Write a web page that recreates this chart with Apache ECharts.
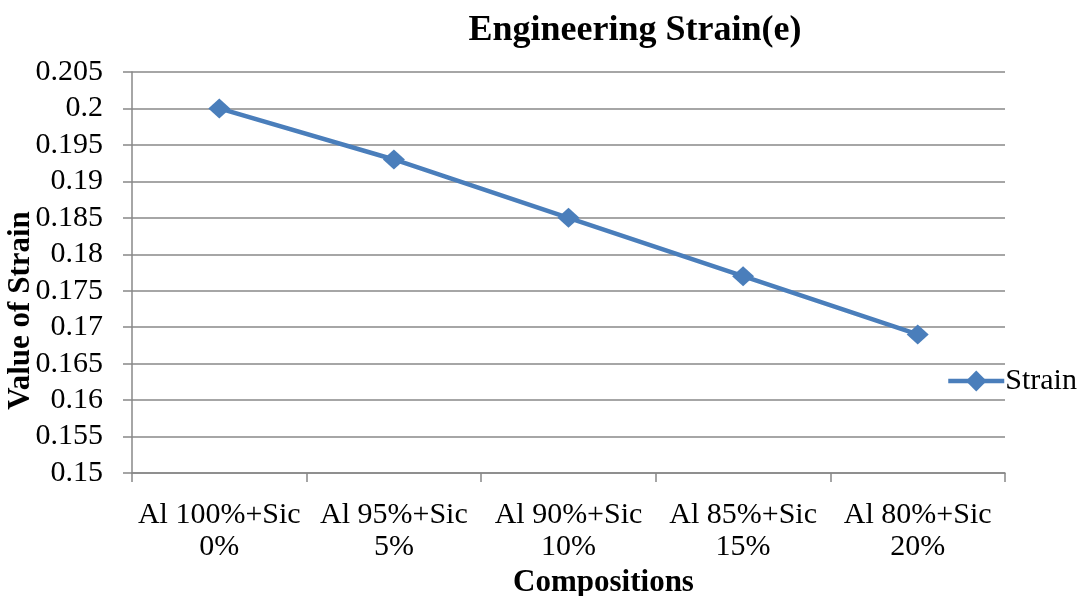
<!DOCTYPE html>
<html><head><meta charset="utf-8">
<script src="https://cdn.jsdelivr.net/npm/echarts@6/dist/echarts.min.js"></script>
<style>html,body{margin:0;padding:0;background:#fff}#c{width:1081px;height:596px}</style>
</head><body><div id="c"></div>
<script>
const categories = ['Al 100%+Sic\n0%', 'Al 95%+Sic\n5%', 'Al 90%+Sic\n10%', 'Al 85%+Sic\n15%', 'Al 80%+Sic\n20%'];
const strain = [0.200, 0.193, 0.185, 0.177, 0.169];
const yMin = 0.15, yMax = 0.205, yStep = 0.005;

const font = '"Liberation Serif","Times New Roman",serif';
const blue = '#4A7EBB';
const chart = echarts.init(document.getElementById('c'), null, {renderer: 'canvas'});
chart.setOption({
  animation: false,
  title: {
    text: 'Engineering Strain(e)', left: 630, top: 8, textAlign: 'center',
    textStyle: {fontFamily: font, fontWeight: 'bold', fontSize: 36, color: '#000'}
  },
  legend: {
    data: ['Strain'], left: 946, top: 366, orient: 'vertical',
    itemWidth: 56, itemHeight: 26, itemGap: 0, padding: 0,
    lineStyle: {width: 4.5, color: blue},
    itemStyle: {color: blue},
    textStyle: {fontFamily: font, fontSize: 30, color: '#000', padding: [0, 0, 0, -4]}
  },
  grid: {left: 132, right: 76, top: 72, bottom: 123, outerBoundsMode: 'none'},
  xAxis: {
    type: 'category', data: categories, boundaryGap: true,
    name: 'Compositions', nameLocation: 'middle', nameGap: 94, nameMoveOverlap: false,
    nameTextStyle: {fontFamily: font, fontWeight: 'bold', fontSize: 31, color: '#000', padding: [0, 0, 0, 70]},
    axisLine: {lineStyle: {color: '#888', width: 1.5}},
    axisTick: {show: true, length: 9, alignWithLabel: false, lineStyle: {color: '#888', width: 1.5}},
    axisLabel: {fontFamily: font, fontSize: 30, color: '#000', margin: 26, lineHeight: 32, interval: 0}
  },
  yAxis: {
    type: 'value', min: yMin, max: yMax, interval: yStep,
    name: 'Value of Strain', nameLocation: 'middle', nameGap: 96, nameRotate: 90, nameMoveOverlap: false,
    nameTextStyle: {fontFamily: font, fontWeight: 'bold', fontSize: 31, color: '#000', padding: [0, 76, 0, 0]},
    axisLine: {show: true, lineStyle: {color: '#888', width: 1.5}},
    axisTick: {show: true, length: 9, lineStyle: {color: '#888', width: 1.5}},
    splitLine: {show: true, lineStyle: {color: '#888', width: 1.5}},
    axisLabel: {fontFamily: font, fontSize: 30, color: '#000', margin: 29,
      formatter: v => String(parseFloat(v.toFixed(3)))}
  },
  series: [{
    name: 'Strain', type: 'line', data: strain,
    symbol: 'diamond', symbolSize: [22, 20],
    lineStyle: {color: blue, width: 4.5},
    itemStyle: {color: blue}
  }]
});
</script></body></html>
